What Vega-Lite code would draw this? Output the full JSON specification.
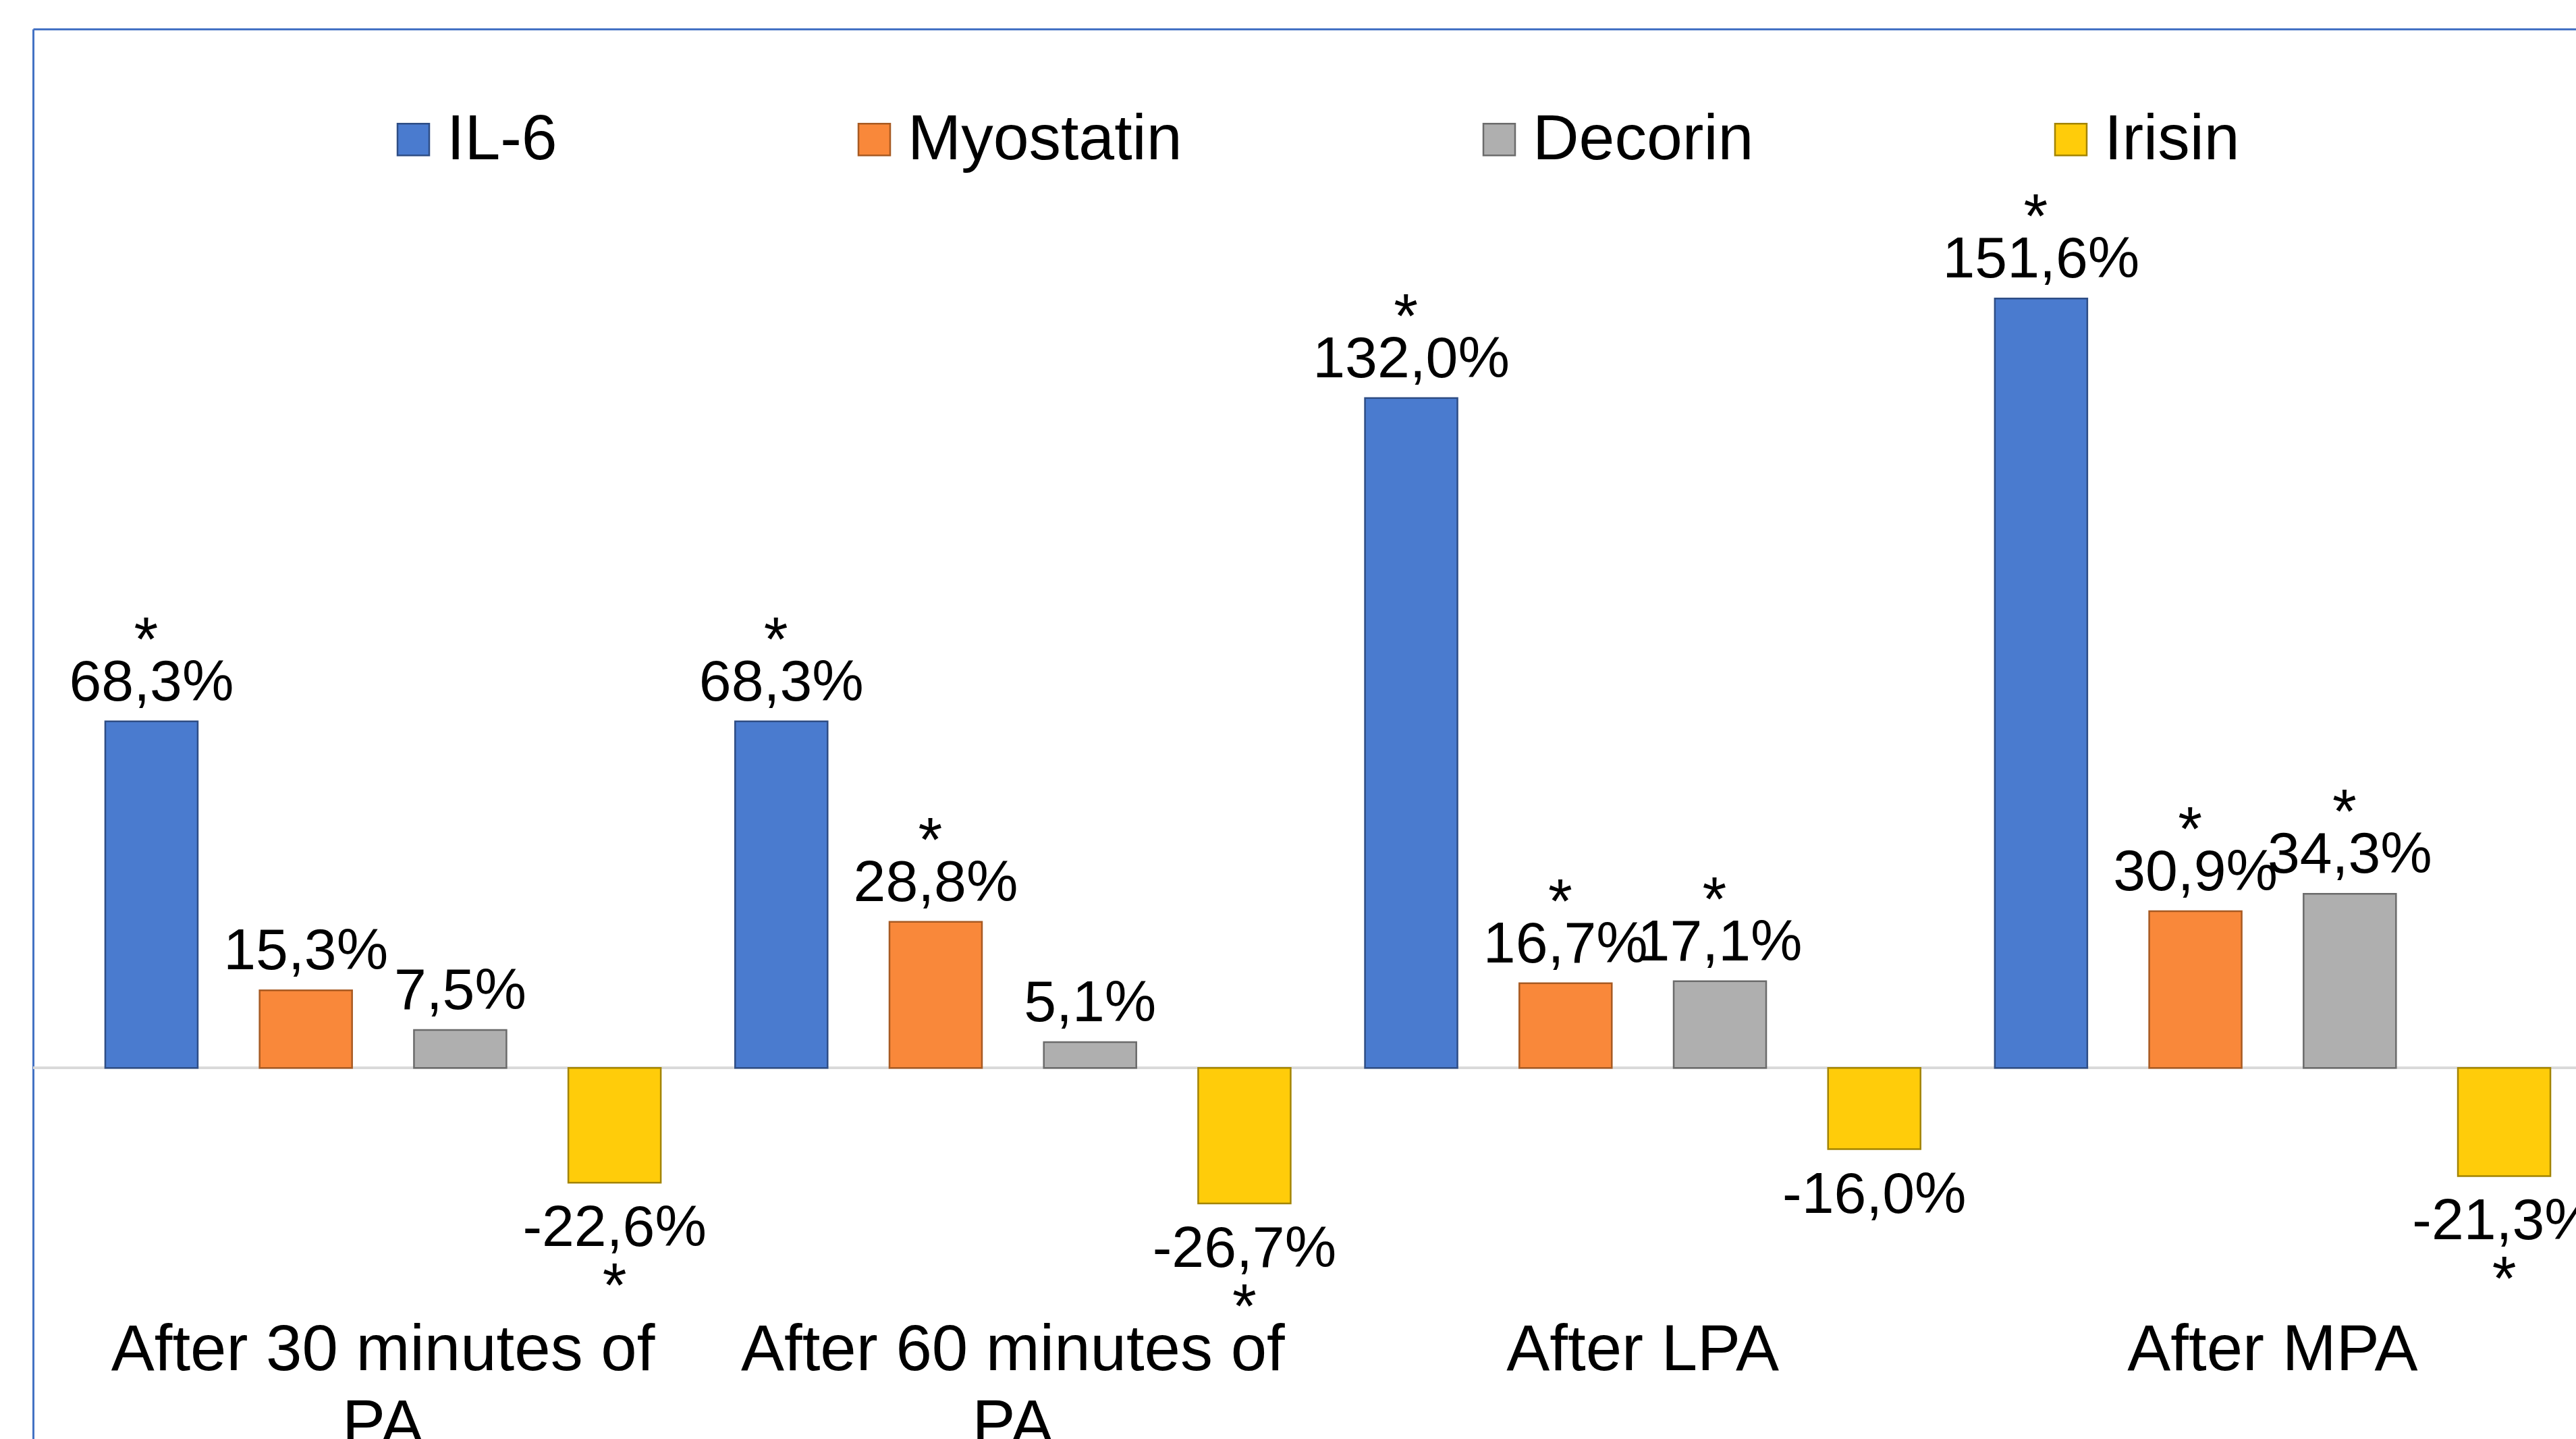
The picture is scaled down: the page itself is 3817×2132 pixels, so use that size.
{
  "$schema": "https://vega.github.io/schema/vega-lite/v6.json",
  "width": 3768,
  "height": 2089,
  "autosize": {"type": "none"},
  "padding": {"left": 49, "top": 43, "right": 0, "bottom": 0},
  "background": "white",
  "datasets": {
    "main": [
      {"category": "After 30 minutes of PA", "marker": "IL-6", "value": 0.683, "sig": true},
      {"category": "After 30 minutes of PA", "marker": "Myostatin", "value": 0.153, "sig": false},
      {"category": "After 30 minutes of PA", "marker": "Decorin", "value": 0.075, "sig": false},
      {"category": "After 30 minutes of PA", "marker": "Irisin", "value": -0.226, "sig": true},
      {"category": "After 60 minutes of PA", "marker": "IL-6", "value": 0.683, "sig": true},
      {"category": "After 60 minutes of PA", "marker": "Myostatin", "value": 0.288, "sig": true},
      {"category": "After 60 minutes of PA", "marker": "Decorin", "value": 0.051, "sig": false},
      {"category": "After 60 minutes of PA", "marker": "Irisin", "value": -0.267, "sig": true},
      {"category": "After LPA", "marker": "IL-6", "value": 1.32, "sig": true},
      {"category": "After LPA", "marker": "Myostatin", "value": 0.167, "sig": true},
      {"category": "After LPA", "marker": "Decorin", "value": 0.171, "sig": true},
      {"category": "After LPA", "marker": "Irisin", "value": -0.16, "sig": false},
      {"category": "After MPA", "marker": "IL-6", "value": 1.516, "sig": true},
      {"category": "After MPA", "marker": "Myostatin", "value": 0.309, "sig": true},
      {"category": "After MPA", "marker": "Decorin", "value": 0.343, "sig": true},
      {"category": "After MPA", "marker": "Irisin", "value": -0.213, "sig": true}
    ]
  },
  "config": {
    "view": {"stroke": null},
    "font": "Liberation Sans",
    "locale": {
      "number": {"decimal": ",", "thousands": ".", "grouping": [3], "currency": ["", ""], "minus": "-", "percent": "%"}
    },
    "axis": {"grid": false, "ticks": false, "labels": false, "title": null, "domainColor": "#4472C4", "domainWidth": 3}
  },
  "encoding": {
    "x": {
      "field": "category", "type": "nominal", "sort": null,
      "scale": {"range": [0, 3837], "paddingInner": 0.118, "paddingOuter": 0.1146},
      "axis": {"orient": "top", "title": null, "labels": false, "ticks": false}
    }
  },
  "layer": [
    {
      "data": {"name": "main"},
      "mark": {"type": "rule", "color": "#D9D9D9", "strokeWidth": 3},
      "encoding": {"y": {"datum": 0, "type": "quantitative", "scale": {"domain": [-0.731, 2.047], "nice": false, "zero": false}, "axis": {"orient": "left", "title": null, "labels": false, "ticks": false, "grid": false}}, "x": null}
    },
    {
      "data": {"name": "main"},
      "mark": {"type": "bar", "strokeWidth": 2.5, "opacity": 1},
      "encoding": {
        "y": {"field": "value", "type": "quantitative"},
        "xOffset": {"field": "marker", "type": "nominal", "sort": null, "scale": {"paddingInner": 0.401, "paddingOuter": 0}},
        "fill": {
          "field": "marker", "type": "nominal", "sort": null,
          "scale": {"domain": ["IL-6", "Myostatin", "Decorin", "Irisin"], "range": ["#4A7BCF", "#F9883A", "#AFAFAF", "#FFCC0A"]},
          "legend": {"orient": "none", "legendX": 516, "legendY": 116, "direction": "horizontal", "title": null, "symbolType": "square", "symbolSize": 2209, "symbolStrokeWidth": 2.5, "labelFontSize": 95, "labelFont": "Liberation Sans", "labelColor": "#000000", "labelOffset": 2, "columnPadding": 422, "labelLimit": 0, "padding": 0, "symbolOpacity": 1}
        },
        "stroke": {
          "field": "marker", "type": "nominal", "sort": null,
          "scale": {"domain": ["IL-6", "Myostatin", "Decorin", "Irisin"], "range": ["#2E4D85", "#A85A22", "#6B6B6B", "#A38400"]},
          "legend": {"orient": "none", "legendX": 516, "legendY": 116, "direction": "horizontal", "title": null, "symbolType": "square", "symbolSize": 2209, "symbolStrokeWidth": 2.5, "labelFontSize": 95, "labelFont": "Liberation Sans", "labelColor": "#000000", "labelOffset": 2, "columnPadding": 422, "labelLimit": 0, "padding": 0, "symbolOpacity": 1}
        }
      }
    },
    {
      "data": {"name": "main"},
      "transform": [{"filter": "datum.value >= 0"}],
      "mark": {"type": "text", "fontSize": 86, "baseline": "alphabetic", "align": "center", "dy": -31, "color": "#000000"},
      "encoding": {
        "y": {"field": "value", "type": "quantitative"},
        "xOffset": {"field": "marker", "type": "nominal", "sort": null},
        "text": {"field": "value", "type": "quantitative", "format": ".1%"}
      }
    },
    {
      "data": {"name": "main"},
      "transform": [{"filter": "datum.value < 0"}],
      "mark": {"type": "text", "fontSize": 86, "baseline": "alphabetic", "align": "center", "dy": 94, "color": "#000000"},
      "encoding": {
        "y": {"field": "value", "type": "quantitative"},
        "xOffset": {"field": "marker", "type": "nominal", "sort": null},
        "text": {"field": "value", "type": "quantitative", "format": ".1%"}
      }
    },
    {
      "data": {"name": "main"},
      "transform": [{"filter": "datum.sig && datum.value >= 0"}],
      "mark": {"type": "text", "fontSize": 92, "baseline": "alphabetic", "align": "center", "dy": -90, "dx": -8, "color": "#000000", "text": "*"},
      "encoding": {
        "y": {"field": "value", "type": "quantitative"},
        "xOffset": {"field": "marker", "type": "nominal", "sort": null}
      }
    },
    {
      "data": {"name": "main"},
      "transform": [{"filter": "datum.sig && datum.value < 0"}],
      "mark": {"type": "text", "fontSize": 92, "baseline": "alphabetic", "align": "center", "dy": 184, "color": "#000000", "text": "*"},
      "encoding": {
        "y": {"field": "value", "type": "quantitative"},
        "xOffset": {"field": "marker", "type": "nominal", "sort": null}
      }
    },
    {
      "data": {"values": [
        {"category": "After 30 minutes of PA", "label": "After 30 minutes of|PA"},
        {"category": "After 60 minutes of PA", "label": "After 60 minutes of|PA"},
        {"category": "After LPA", "label": "After LPA"},
        {"category": "After MPA", "label": "After MPA"}
      ]},
      "mark": {"type": "text", "fontSize": 96, "lineHeight": 111, "lineBreak": "|", "baseline": "alphabetic", "align": "center", "color": "#000000"},
      "encoding": {
        "y": {"datum": -0.5953, "type": "quantitative"},
        "text": {"field": "label", "type": "nominal"}
      }
    }
  ]
}
